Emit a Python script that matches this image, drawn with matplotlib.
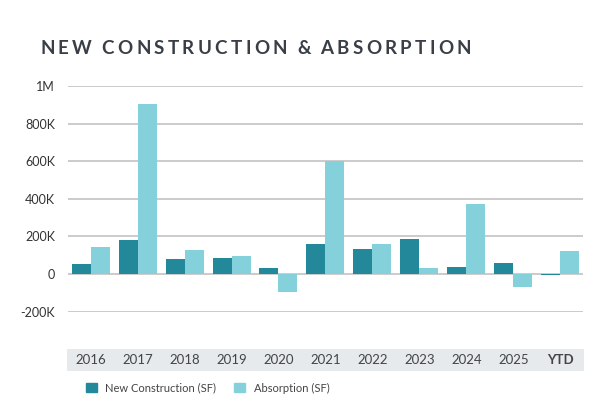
import numpy as np
import matplotlib
matplotlib.use("Agg")
import matplotlib.pyplot as plt
from matplotlib.patches import Patch

years = ["2016", "2017", "2018", "2019", "2020", "2021", "2022", "2023", "2024", "2025", "YTD"]
new_construction = [55000, 181000, 80000, 85000, 32000, 160000, 133000, 186000, 37000, 58000, -4000]
absorption = [144000, 904000, 128000, 96000, -94000, 599000, 160000, 32000, 372000, -69000, 122000]
yticks = [-200000, 0, 200000, 400000, 600000, 800000, 1000000]
ytick_labels = ["-200K", "0", "200K", "400K", "600K", "800K", "1M"]

dark = "#23889a"
light = "#85d1db"
plt.rcParams["font.family"] = ["Lato", "DejaVu Sans"]

W, H = 598, 415
fig = plt.figure(figsize=(W / 100, H / 100), dpi=100)

ax = fig.add_axes([67.5 / W, 1 - 311.7 / H, (583 - 67.5) / W, (311.7 - 86) / H])
x = np.arange(len(years))
bw = 0.405
ax.bar(x - bw / 2, new_construction, bw, color=dark, zorder=3)
ax.bar(x + bw / 2, absorption, bw, color=light, zorder=3)
ax.set_xlim(-0.5, len(years) - 0.5)
ax.set_ylim(-200000, 1000000)
ax.set_yticks(yticks)
ax.set_yticklabels(ytick_labels, fontsize=9, color="#333333")
ax.tick_params(axis="y", length=0, pad=9)
ax.set_xticks([])
for v in yticks:
    ax.axhline(v, color="#bdbdbd", lw=1.1, zorder=1)
for s in ax.spines.values():
    s.set_visible(False)

# category band
band = fig.add_axes([67 / W, 1 - 371 / H, (584 - 67) / W, 22 / H])
band.set_facecolor("#e6eaec")
band.set_xlim(ax.get_xlim())
band.set_ylim(0, 1)
for s in band.spines.values():
    s.set_visible(False)
band.set_xticks([])
band.set_yticks([])
for i, lab in enumerate(years):
    band.text(i, 0.5, lab, ha="center", va="center", fontsize=9.5, color="#444444",
              fontweight="bold" if lab == "YTD" else "normal")

# legend
handles = [Patch(color=dark, label="New Construction (SF)"),
           Patch(color=light, label="Absorption (SF)")]
fig.legend(handles=handles, loc="center left", bbox_to_anchor=(76 / W, 1 - 388 / H),
           ncol=2, frameon=False, fontsize=8, handlelength=0.95, handleheight=0.95,
           handletextpad=0.8, columnspacing=1.6, labelcolor="#444444")

# spaced title
title = "NEW CONSTRUCTION & ABSORPTION"
renderer = fig.canvas.get_renderer()
tx = 40
track = 3.3
for ch in title:
    t = fig.text(tx / W, 1 - 48 / H, ch, fontsize=13.5, color="#3a3f47", va="center",
                 ha="left", fontweight="bold")
    if ch == " ":
        w = 3.5
    else:
        w = t.get_window_extent(renderer).width
    tx += w + track

fig.savefig("out.png", dpi=100)
